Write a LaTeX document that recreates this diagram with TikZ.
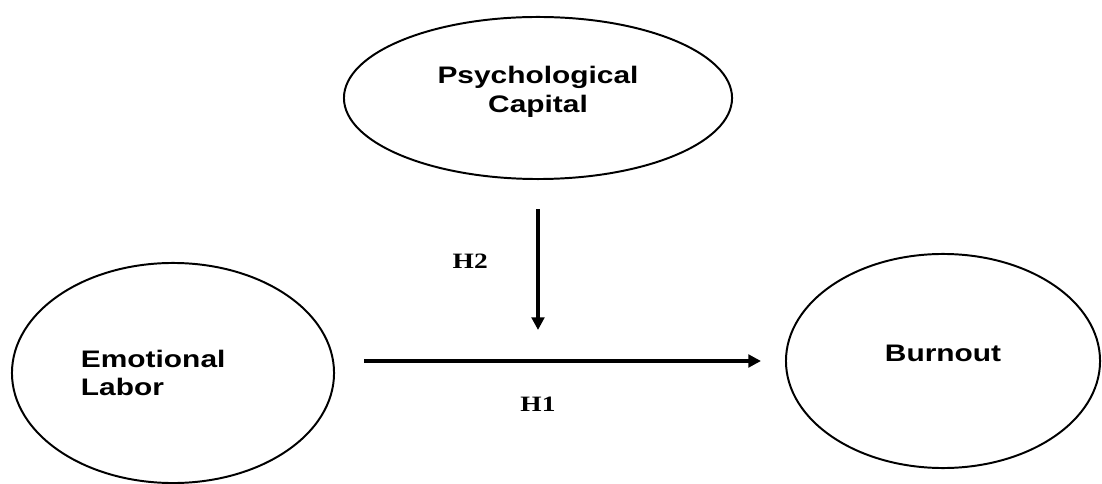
\documentclass[tikz,border=0pt]{standalone}
\usepackage{fontspec}
\usepackage{tikz}
\usetikzlibrary{arrows.meta,positioning,shapes.geometric}

\newfontfamily\constructfont[FakeStretch=1.25]{Liberation Sans}
\newfontfamily\hypfont[FakeStretch=1.25]{Liberation Serif}

\begin{document}
\begin{tikzpicture}[x=0.025cm,y=-0.025cm,
            construct/.style={draw,ellipse,line width=1.4pt,inner sep=0pt,
              font=\constructfont\bfseries\fontsize{17}{20.3}\selectfont},
            hyp/.style={inner sep=0pt,font=\hypfont\bfseries\fontsize{15.6}{18}\selectfont},
            path/.style={draw,line width=2.2pt,-{Triangle[length=9pt,width=9pt]}}
          ]
          \useasboundingbox (0,0) rectangle (1102,484);

          %constructs
          \node[construct,minimum width=9.7cm,minimum height=4.05cm,
            align=center,text depth=0.43cm] (psycap) at (538,98) {Psychological\\Capital};
          \node[construct,minimum width=8.05cm,minimum height=5.5cm,
            align=left,text width=4.6cm] (emolab) at (173,373) {Emotional\\Labor};
          \node[construct,minimum width=7.85cm,minimum height=5.35cm,
            text depth=0.375cm] (burnout) at (943,361) {Burnout};

          %junctions
          \coordinate (elout) at (emolab.east |- burnout.west);
          \coordinate (junction) at (psycap.south |- burnout.west);

          %hypotheses
          \node[hyp,above left=2.3cm and 1.25cm of junction] (h2) {H2};
          \node[hyp,below=0.9cm of junction] (h1) {H1};

          %paths
          \path[path,shorten <=0.725cm,shorten >=0.6cm] (elout) -- (burnout.west);
          \path[path,shorten <=0.725cm,shorten >=0.775cm] (psycap.south) -- (junction);

      \end{tikzpicture}
\end{document}
